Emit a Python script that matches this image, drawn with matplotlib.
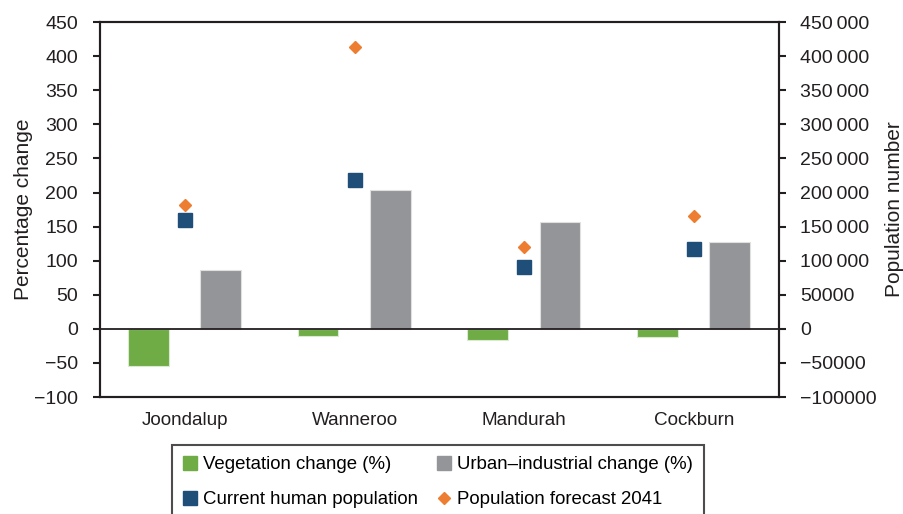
import matplotlib
matplotlib.use("Agg")
import matplotlib.pyplot as plt
import numpy as np
from matplotlib.ticker import FuncFormatter, MultipleLocator
from matplotlib.lines import Line2D

plt.rcParams['font.family'] = ['Liberation Sans', 'DejaVu Sans']
plt.rcParams['axes.unicode_minus'] = True

categories = ["Joondalup", "Wanneroo", "Mandurah", "Cockburn"]
vegetation_change = [-55, -10, -17, -12]
urban_change = [87, 204, 157, 128]
current_population = [160000, 219000, 90000, 117000]
forecast_2041 = [182000, 413000, 120000, 166000]

green = "#6fac46"
gray = "#939598"
blue = "#1f4e79"
orange = "#ed7d31"
ink = "#231f20"

fig = plt.figure(figsize=(9.04, 5.14), dpi=100)
ax = fig.add_axes([0.1106, 0.2276, 0.7511, 0.7294])
ax2 = ax.twinx()

x = np.arange(len(categories))
w = 0.24
ax.bar(x - 0.215, vegetation_change, w, color=green, edgecolor="#d9ead0", linewidth=0.8, zorder=2)
ax.bar(x + 0.21, urban_change, w, color=gray, edgecolor="#e0e0e0", linewidth=0.8, zorder=2)
ax.axhline(0, color=ink, linewidth=1.3, zorder=3)

ax2.plot(x, current_population, linestyle="none", marker="s", markersize=9.5, color=blue, zorder=4)
ax2.plot(x, forecast_2041, linestyle="none", marker="D", markersize=6, color=orange, zorder=4)

ax.set_xlim(-0.5, 3.5)
ax.set_ylim(-100, 450)
ax2.set_ylim(-100000, 450000)
ax.yaxis.set_major_locator(MultipleLocator(50))
ax2.yaxis.set_major_locator(MultipleLocator(50000))

def minus_fmt(v, pos):
    s = f"{int(round(v))}"
    return s.replace("-", "\u2212")

def pop_fmt(v, pos):
    n = int(round(v))
    s = f"{abs(n)}"
    if len(s) > 5 and n > 0:
        s = s[:-3] + "\u2009" + s[-3:]
    return ("\u2212" if n < 0 else "") + s

ax.yaxis.set_major_formatter(FuncFormatter(minus_fmt))
ax2.yaxis.set_major_formatter(FuncFormatter(pop_fmt))

ax.set_xticks(x)
ax.set_xticklabels(categories)
ax.tick_params(axis="x", length=0, pad=11, labelsize=13.6, colors=ink)
ax.tick_params(axis="y", direction="out", length=5, width=1.5, pad=11, labelsize=14, colors=ink)
ax2.tick_params(axis="y", direction="out", length=5, width=1.5, pad=10, labelsize=14, colors=ink)

for a in (ax, ax2):
    for sp in a.spines.values():
        sp.set_color(ink)
        sp.set_linewidth(1.5)

ax.set_ylabel("Percentage change", fontsize=15, color=ink)
ax2.set_ylabel("Population number", fontsize=15, color=ink)
ax.yaxis.set_label_coords(-0.099, 0.5)
ax2.yaxis.set_label_coords(1.156, 0.5)

handles = [
    Line2D([], [], linestyle="none", marker="s", markersize=9.5, color=green),
    Line2D([], [], linestyle="none", marker="s", markersize=9.5, color=blue),
    Line2D([], [], linestyle="none", marker="s", markersize=9.5, color=gray),
    Line2D([], [], linestyle="none", marker="D", markersize=6, color=orange),
]
labels = ["Vegetation change (%)", "Current human population",
          "Urban\u2013industrial change (%)", "Population forecast 2041"]
leg = fig.legend(handles, labels, ncol=2, loc="upper center", bbox_to_anchor=(0.4845, 1 - 445 / 514),
                 borderaxespad=0, frameon=True, fancybox=False, fontsize=13.4,
                 handlelength=0.8, handletextpad=0.3, columnspacing=1.0,
                 labelspacing=0.96, borderpad=0.6, edgecolor=ink)
leg.get_frame().set_linewidth(1.5)

fig.savefig("out.png", dpi=100)
